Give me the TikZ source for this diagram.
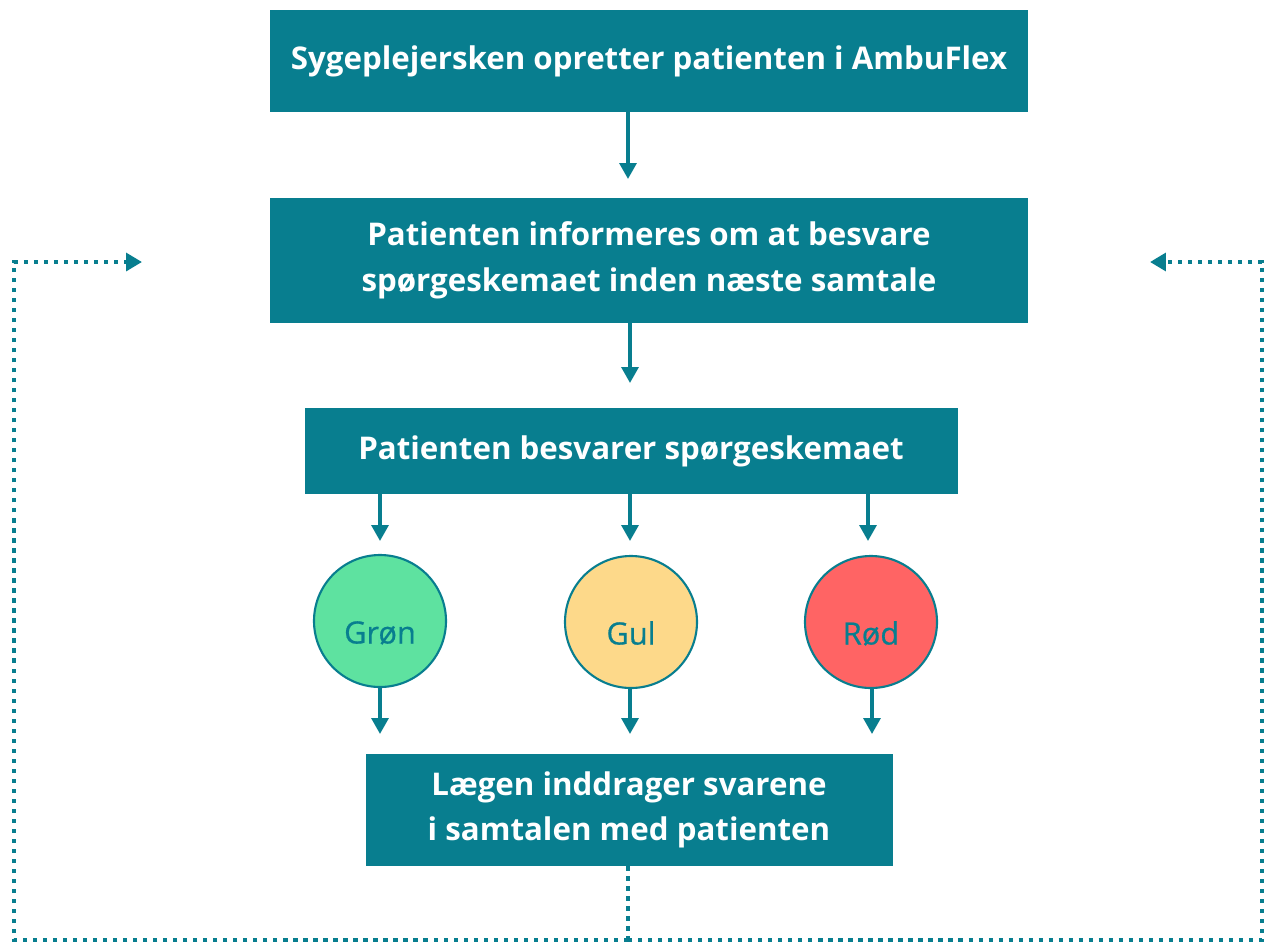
\documentclass[tikz,border=0pt]{standalone}
\usepackage{fontspec}
\setmainfont{Open Sans}
\newfontfamily\circfont[FakeBold=0.6]{Open Sans}
\usetikzlibrary{arrows.meta}
\definecolor{teal0}{HTML}{087E8F}
\definecolor{cgreen}{HTML}{5EE2A0}
\definecolor{cyellow}{HTML}{FDD98A}
\definecolor{cred}{HTML}{FF6464}
\tikzset{
  box/.style={fill=teal0, text=white, font=\fontsize{17.8}{26}\selectfont\bfseries, align=center, inner sep=0pt},
  circ/.style={circle, draw=teal0, line width=1.2pt, minimum size=132*0.02cm, inner sep=0pt, text=teal0, font=\circfont\fontsize{17.5}{20}\selectfont},
  arr/.style={draw=teal0, line width=2pt, -{Triangle[width=9.5pt,length=9pt]}},
  dots/.style={draw=teal0, line width=2.4pt, dash pattern=on 2.4pt off 3.3pt},
  dotsarr/.style={dots, -{Triangle[width=10pt,length=9pt]}}
}
\newcommand{\lowtxt}[1]{\raisebox{-0.45cm}[0pt][0pt]{#1}}
\begin{document}
\begin{tikzpicture}[x=0.02cm, y=-0.02cm]
\useasboundingbox (0,0) rectangle (1268,947);
\node[box, minimum width=758*0.02cm, minimum height=102*0.02cm] (b1) at (649,61) {Sygeplejersken opretter patienten i AmbuFlex};
\node[box, minimum width=758*0.02cm, minimum height=125*0.02cm] (b2) at (649,260) {Patienten informeres om at besvare\\spørgeskemaet inden næste samtale};
\node[box, minimum width=653*0.02cm, minimum height=86*0.02cm] (b3) at (631,451) {Patienten besvarer spørgeskemaet};
\node[circ, fill=cgreen] (c1) at (380,621) {\lowtxt{Grøn}};
\node[circ, fill=cyellow] (c2) at (631,622) {\lowtxt{Gul}};
\node[circ, fill=cred] (c3) at (871,622) {\lowtxt{Rød}};
\node[box, minimum width=527*0.02cm, minimum height=112*0.02cm] (b4) at (629,810) {Lægen inddrager svarene\\i samtalen med patienten};

\coordinate (a1) at (628,179);
\coordinate (a2) at (630,383);
\draw[arr] (b1.south -| a1) -- (a1);
\draw[arr] (b2.south -| a2) -- (a2);

\coordinate (g1) at (380,541);
\coordinate (g2) at (630,541);
\coordinate (g3) at (868,541);
\draw[arr] (b3.south -| g1) -- (g1);
\draw[arr] (b3.south -| g2) -- (g2);
\draw[arr] (b3.south -| g3) -- (g3);

\coordinate (h1) at (380,734);
\coordinate (h2) at (630,734);
\coordinate (h3) at (872,734);
\draw[arr] (c1.south -| h1) -- (h1);
\draw[arr] (c2.south -| h2) -- (h2);
\draw[arr] (c3.south -| h3) -- (h3);

\coordinate (bm) at (628,940);
\coordinate (bl) at (14,940);
\coordinate (br) at (1262,940);
\coordinate (tl) at (14,262);
\coordinate (tr) at (1262,262);
\coordinate (el) at (142,262);
\coordinate (er) at (1150,262);
\draw[dots] (b4.south -| bm) -- (bm);
\draw[dotsarr] (bm) -- (bl) -- (tl) -- (el);
\draw[dotsarr] (bm) -- (br) -- (tr) -- (er);
\end{tikzpicture}
\end{document}
